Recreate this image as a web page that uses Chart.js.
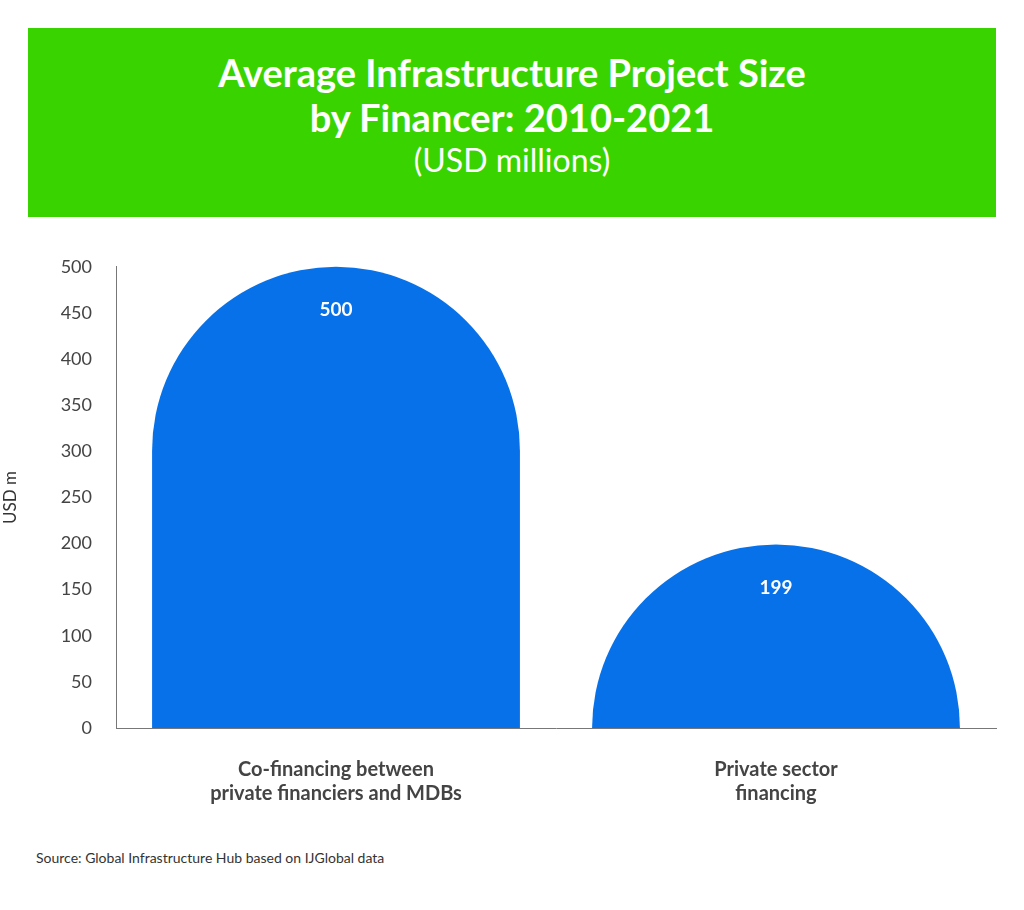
<!DOCTYPE html>
<html><head><meta charset="utf-8">
<script src="https://cdn.jsdelivr.net/npm/chart.js@4/dist/chart.umd.min.js"></script>
<style>
body{margin:0;background:#fff;width:1024px;height:910px;position:relative;font-family:Lato,sans-serif;overflow:hidden}
#banner{position:absolute;left:28px;top:28px;width:968px;height:189px;background:#39d400;color:#fff;text-align:center}
#t1{position:absolute;top:22px;width:100%;font-size:38px;font-weight:bold;line-height:45px}
#t2{position:absolute;top:112px;width:100%;font-size:32px}
#wrap{position:absolute;left:0;top:240px;width:1024px;height:580px}
#src{position:absolute;left:36px;top:849px;font-size:14px;color:#333}
</style></head><body>
<div id="banner"><div id="t1">Average Infrastructure Project Size<br>by Financer: 2010-2021</div><div id="t2">(USD millions)</div></div>
<div id="wrap"><canvas id="c"></canvas></div>
<div id="src">Source: Global Infrastructure Hub based on IJGlobal data</div>
<script>
const categories=[["Co-financing between","private financiers and MDBs"],["Private sector","financing"]];
const values=[500,199];
const tickValues=[0,50,100,150,200,250,300,350,400,450,500];
const domePlugin={id:'dome',afterDatasetsDraw(ch){const ctx=ch.ctx;const m=ch.getDatasetMeta(0);ctx.save();
m.data.forEach((b,i)=>{const r=b.width/2;const h=b.base-b.y;const ry=Math.min(r,h);const left=b.x-r;
ctx.fillStyle='#0671e9';ctx.beginPath();ctx.moveTo(left,b.base);ctx.lineTo(left,b.y+ry);
ctx.ellipse(b.x,b.y+ry,r,ry,0,Math.PI,2*Math.PI);ctx.lineTo(b.x+r,b.base);ctx.closePath();ctx.fill();
ctx.fillStyle='#fff';ctx.font='bold 19px Lato';ctx.textAlign='center';ctx.textBaseline='middle';ctx.fillText(values[i],b.x,b.y+43);});
ctx.restore();}};
new Chart(document.getElementById('c'),{type:'bar',
data:{labels:categories,datasets:[{data:values,backgroundColor:'rgba(0,0,0,0)',barPercentage:0.836,categoryPercentage:1}]},
options:{responsive:true,maintainAspectRatio:false,animation:false,layout:{padding:{left:0,right:28,top:22,bottom:0}},
plugins:{legend:{display:false},tooltip:{enabled:false}},
scales:{y:{min:0,max:500,afterBuildTicks(a){a.ticks=tickValues.map(v=>({value:v}));},afterFit(a){a.width=116;},
grid:{display:false},border:{display:true,color:'#777'},ticks:{color:'#444',font:{size:18,family:'Lato'},padding:16},
title:{display:true,text:'USD m',color:'#333',font:{size:17,family:'Lato'},padding:{top:0,bottom:0}}},
x:{afterFit(a){a.height=92;},grid:{display:false},border:{display:true,color:'#777'},ticks:{color:'#444',font:{size:20,weight:'bold',family:'Lato'},padding:22}}}},
plugins:[domePlugin]});
</script></body></html>
